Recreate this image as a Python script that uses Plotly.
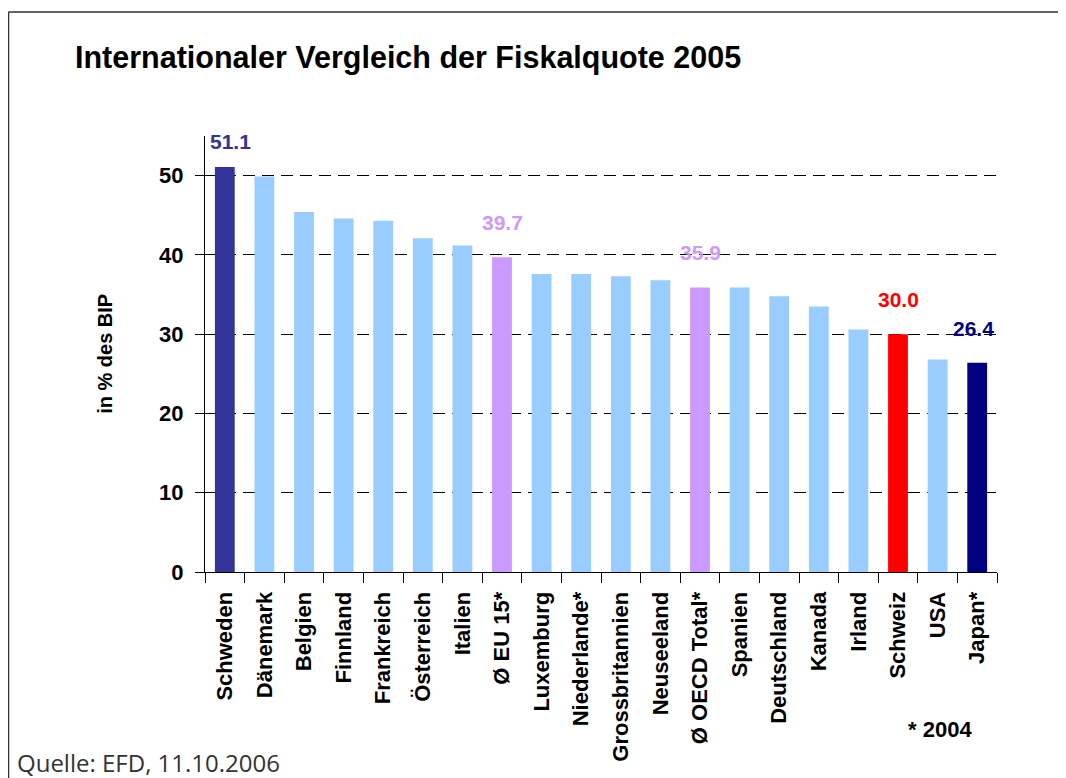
import plotly.graph_objects as go

categories = ["Schweden", "Dänemark", "Belgien", "Finnland", "Frankreich", "Österreich",
              "Italien", "Ø EU 15*", "Luxemburg", "Niederlande*", "Grossbritannien",
              "Neuseeland", "Ø OECD Total*", "Spanien", "Deutschland", "Kanada", "Irland",
              "Schweiz", "USA", "Japan*"]
values = [51.1, 49.9, 45.4, 44.6, 44.3, 42.1, 41.2, 39.7, 37.6, 37.6, 37.3,
          36.8, 35.9, 35.9, 34.8, 33.5, 30.6, 30.0, 26.8, 26.4]
bar_colors = ["#333399"] + ["#99CCFF"] * 6 + ["#CC99FF"] + ["#99CCFF"] * 4 + ["#CC99FF"] + \
             ["#99CCFF"] * 4 + ["#FF0000", "#99CCFF", "#000080"]

# labelled bars: (category, value text, colour, yshift)
labelled = [("Schweden", "51.1", "#333399", 12),
            ("Ø EU 15*", "39.7", "#CC99FF", 21),
            ("Ø OECD Total*", "35.9", "#CC99FF", 21),
            ("Schweiz", "30.0", "#FF0000", 21),
            ("Japan*", "26.4", "#000080", 21)]

FONT = "Liberation Sans, Arial, sans-serif"

OFF = 8  # page body offset
W, H = 1066 - OFF, 778 - OFF
# plot area in screenshot pixels: x 205..997, y 136..572.3
SX0, SX1, SY0, SY1 = 205, 997, 136, 572.3
L = SX0 - OFF
T = SY0 - OFF
R = W - (SX1 - OFF)
B = H - (SY1 - OFF)
PW, PH = SX1 - SX0, SY1 - SY0


def px_x(sx):
    return (sx - SX0) / PW


def px_y(sy):
    return (SY1 - sy) / PH


fig = go.Figure(go.Bar(
    x=categories, y=values,
    marker=dict(color=bar_colors, line=dict(width=0)),
    hoverinfo="x+y",
))

annotations = []
for cat, txt, col, ys in labelled:
    v = values[categories.index(cat)]
    xs = 6 if cat == "Schweden" else (-4 if cat == "Japan*" else 0)
    annotations.append(dict(
        x=cat, y=v, xref="x", yref="y", text=txt, showarrow=False,
        xanchor="center", yanchor="bottom", yshift=ys, xshift=xs,
        font=dict(family=FONT, size=21, color=col, weight="bold"),
    ))

annotations.append(dict(
    x=px_x(105), y=px_y(354), xref="paper", yref="paper",
    xanchor="center", yanchor="middle",
    text="in % des BIP", textangle=-90, showarrow=False,
    font=dict(family=FONT, size=20, color="#000000", weight="bold"),
))
annotations.append(dict(
    x=px_x(940), y=px_y(730), xref="paper", yref="paper",
    xanchor="center", yanchor="middle",
    text="* 2004", showarrow=False,
    font=dict(family=FONT, size=22, color="#000000", weight="bold"),
))
annotations.append(dict(
    x=px_x(15), y=px_y(763), xref="paper", yref="paper",
    xanchor="left", yanchor="middle",
    text="Quelle: EFD, 11.10.2006", showarrow=False,
    font=dict(family="Open Sans, Noto Sans, sans-serif", size=24, color="#333333"),
))

shapes = [
    dict(type="line", xref="paper", yref="paper",
         x0=px_x(8.5), x1=px_x(1080), y0=px_y(12), y1=px_y(12),
         line=dict(color="#333333", width=1.5)),
    dict(type="line", xref="paper", yref="paper",
         x0=px_x(8.5), x1=px_x(8.5), y0=px_y(12), y1=px_y(800),
         line=dict(color="#333333", width=1.5)),
]

fig.update_layout(
    width=W, height=H,
    margin=dict(l=L, r=R, t=T, b=B, autoexpand=False),
    paper_bgcolor="white", plot_bgcolor="white",
    showlegend=False,
    bargap=0.5,
    title=dict(
        text="Internationaler Vergleich der Fiskalquote 2005",
        x=(75 - OFF) / W, xref="container", xanchor="left",
        y=1 - (57 - OFF) / H, yref="container", yanchor="middle",
        font=dict(family=FONT, size=30.5, color="#000000", weight="bold"),
    ),
    annotations=annotations,
    shapes=shapes,
    xaxis=dict(
        type="category",
        showline=True, linecolor="#000000", linewidth=1,
        ticks="outside", ticklen=10, tickcolor="#000000", tickson="boundaries",
        tickangle=-90, ticklabelstandoff=10,
        tickfont=dict(family=FONT, size=22, color="#000000", weight="bold"),
        showgrid=False,
    ),
    yaxis=dict(
        range=[0, 55],
        tickvals=[0, 10, 20, 30, 40, 50],
        showline=True, linecolor="#000000", linewidth=1,
        ticks="outside", ticklen=9, tickcolor="#000000", ticklabelstandoff=7,
        tickfont=dict(family=FONT, size=22, color="#000000", weight="bold"),
        showgrid=True, gridcolor="#000000", gridwidth=1, griddash="12px,7px",
        zeroline=False,
    ),
)

fig.write_html("out.html")
